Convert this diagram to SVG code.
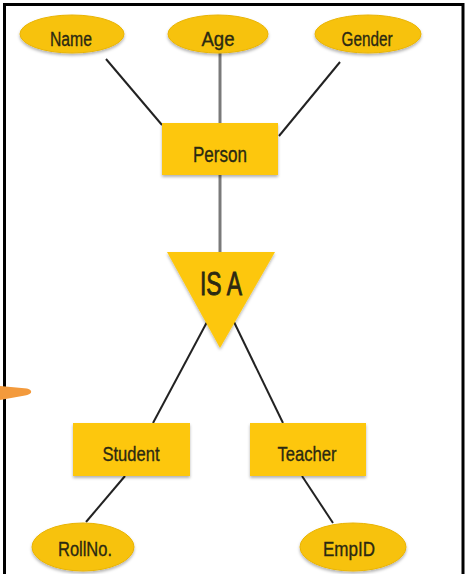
<svg xmlns="http://www.w3.org/2000/svg" width="469" height="574" viewBox="0 0 469 574">
  <style>
    .attr { fill: #F7C20E; stroke: #E9B406; stroke-width: 1; }
    .entity { fill: #FDC70C; }
    .lbl { font-family: "Liberation Sans", Arial, sans-serif; fill: #2B2912; stroke: #2B2912; stroke-width: 0.35; text-anchor: middle; }
    .lbl-big { stroke-width: 0.9; }
    .conn { stroke: #222; stroke-width: 2; fill: none; }
    .conn-gray { stroke: #7A7A7A; stroke-width: 3; fill: none; }
  </style>
  <defs>
    <filter id="shadow" x="-10%" y="-10%" width="120%" height="130%">
      <feDropShadow dx="0" dy="2" stdDeviation="1.5" flood-color="#000" flood-opacity="0.3"/>
    </filter>
  </defs>

  <rect width="469" height="574" fill="#fff"/>

  <!-- frame -->
  <path d="M4.5,574 V4.5 H463 V574" fill="none" stroke="#000" stroke-width="3"/>

  <!-- orange pointer mark at left edge -->
  <path d="M0,386 L27,388.5 Q32,390 31,392.5 Q30,394.5 25,395.5 L0,400 Z" fill="#F39A3C"/>

  <!-- connectors -->
  <g id="connectors">
    <line class="conn" x1="106" y1="59" x2="162" y2="125"/>
    <line class="conn-gray" x1="220" y1="53" x2="220" y2="123"/>
    <line class="conn" x1="340" y1="62" x2="279" y2="136"/>
    <line class="conn-gray" x1="220" y1="175" x2="220" y2="253"/>
    <line class="conn" x1="207" y1="322" x2="153" y2="423"/>
    <line class="conn" x1="234" y1="322" x2="283" y2="423"/>
    <line class="conn" x1="125" y1="476" x2="86" y2="522"/>
    <line class="conn" x1="302" y1="476" x2="333" y2="523"/>
  </g>

  <!-- attributes of Person -->
  <g id="attr-name">
    <ellipse class="attr" cx="72" cy="34" rx="52" ry="19" filter="url(#shadow)"/>
    <text class="lbl" x="71" y="46" font-size="20" textLength="42" lengthAdjust="spacingAndGlyphs">Name</text>
  </g>
  <g id="attr-age">
    <ellipse class="attr" cx="218" cy="34" rx="50" ry="19" filter="url(#shadow)"/>
    <text class="lbl" x="218" y="46" font-size="20" textLength="33" lengthAdjust="spacingAndGlyphs">Age</text>
  </g>
  <g id="attr-gender">
    <ellipse class="attr" cx="368" cy="34" rx="53" ry="19" filter="url(#shadow)"/>
    <text class="lbl" x="367" y="46" font-size="20" textLength="51" lengthAdjust="spacingAndGlyphs">Gender</text>
  </g>

  <!-- entity Person -->
  <g id="person">
    <rect class="entity" x="162" y="123" width="116" height="52" filter="url(#shadow)"/>
    <text class="lbl" x="220" y="162" font-size="22" textLength="54" lengthAdjust="spacingAndGlyphs">Person</text>
  </g>

  <!-- ISA specialisation triangle -->
  <g id="isa">
    <polygon class="entity" points="167,252 275,252 220,348" filter="url(#shadow)"/>
    <text class="lbl lbl-big" x="221" y="295" font-size="34" textLength="42" lengthAdjust="spacingAndGlyphs">IS A</text>
  </g>

  <!-- subclasses -->
  <g id="student">
    <rect class="entity" x="73" y="423" width="117" height="53" filter="url(#shadow)"/>
    <text class="lbl" x="131" y="461" font-size="21" textLength="57" lengthAdjust="spacingAndGlyphs">Student</text>
  </g>
  <g id="teacher">
    <rect class="entity" x="250" y="423" width="116" height="53" filter="url(#shadow)"/>
    <text class="lbl" x="307" y="461" font-size="21" textLength="59" lengthAdjust="spacingAndGlyphs">Teacher</text>
  </g>

  <!-- subclass attributes -->
  <g id="attr-rollno">
    <ellipse class="attr" cx="83" cy="547" rx="51" ry="24" filter="url(#shadow)"/>
    <text class="lbl" x="85" y="556" font-size="21" textLength="54" lengthAdjust="spacingAndGlyphs">RollNo.</text>
  </g>
  <g id="attr-empid">
    <ellipse class="attr" cx="353" cy="547" rx="53" ry="24" filter="url(#shadow)"/>
    <text class="lbl" x="349" y="556" font-size="21" textLength="52" lengthAdjust="spacingAndGlyphs">EmpID</text>
  </g>
</svg>
